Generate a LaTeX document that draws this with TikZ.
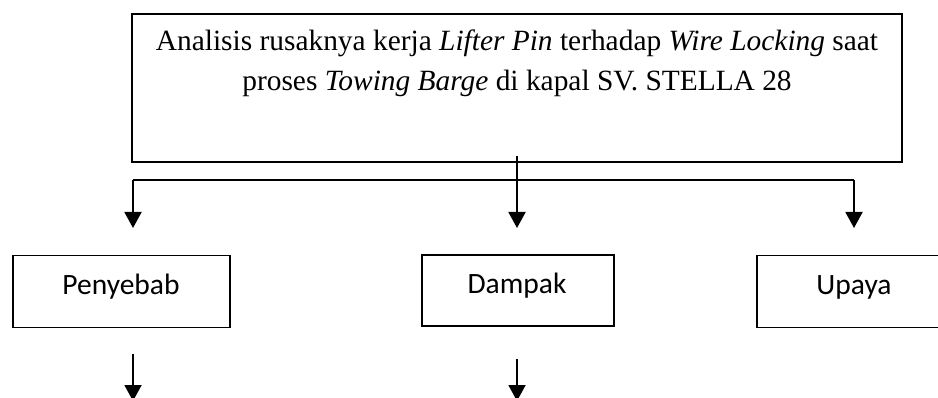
\documentclass[tikz,border=0pt]{standalone}
\usepackage{fontspec}
\newfontfamily\serifx{Liberation Serif}
\newfontfamily\sansx{Carlito}
\usetikzlibrary{arrows.meta}
\tikzset{
  boxx/.style={draw=black, line width=1.4pt, rectangle, inner sep=0pt},
  lbl/.style={font=\sansx\fontsize{29.5}{34}\selectfont, inner sep=0pt, anchor=base},
  conn/.style={draw=black, line width=1.9pt},
  arr/.style={conn, -{Triangle[width=17pt,length=16pt]}}
}
\begin{document}
\begin{tikzpicture}[x=1pt,y=-1pt]
\useasboundingbox (0,0) rectangle (938,398);
\clip (0,0) rectangle (938,398);
% top box
\node[boxx, minimum width=770pt, minimum height=148pt] (title) at (517,88) {};
\node[font=\serifx\fontsize{29.4}{40.3}\selectfont, align=center, inner sep=0pt, anchor=base] (titletext) at (517,91)
  {Analisis rusaknya kerja \textit{Lifter Pin} terhadap \textit{Wire Locking} saat\\
   proses \textit{Towing Barge} di kapal SV. STELLA 28};
% second-level boxes
\node[boxx, minimum width=217pt, minimum height=72pt] (penyebab) at (121.5,291.5) {};
\node[boxx, minimum width=192pt, minimum height=71pt] (dampak) at (518,290.5) {};
\node[boxx, minimum width=194pt, minimum height=72pt] (upaya) at (854,291.5) {};
\node[lbl] (tpenyebab) at (121,295) {Penyebab};
\node[lbl] (tdampak) at (517,294) {Dampak};
\node[lbl] (tupaya) at (854,295) {Upaya};
% connectors
\coordinate (split) at (517,156);
\coordinate (hl) at (133,180);
\coordinate (hr) at (854,180);
\coordinate (tipl) at (133,228);
\coordinate (tipm) at (517,228);
\coordinate (tipr) at (854,228);
\draw[conn] (hl) -- (hr);
\draw[arr] (hl) -- (tipl);
\draw[arr] (split) -- (tipm);
\draw[arr] (hr) -- (tipr);
\coordinate (bl1) at (133,354);
\coordinate (bl2) at (133,401);
\coordinate (bm1) at (517,359);
\coordinate (bm2) at (517,401);
\draw[arr] (bl1) -- (bl2);
\draw[arr] (bm1) -- (bm2);
\end{tikzpicture}
\end{document}
